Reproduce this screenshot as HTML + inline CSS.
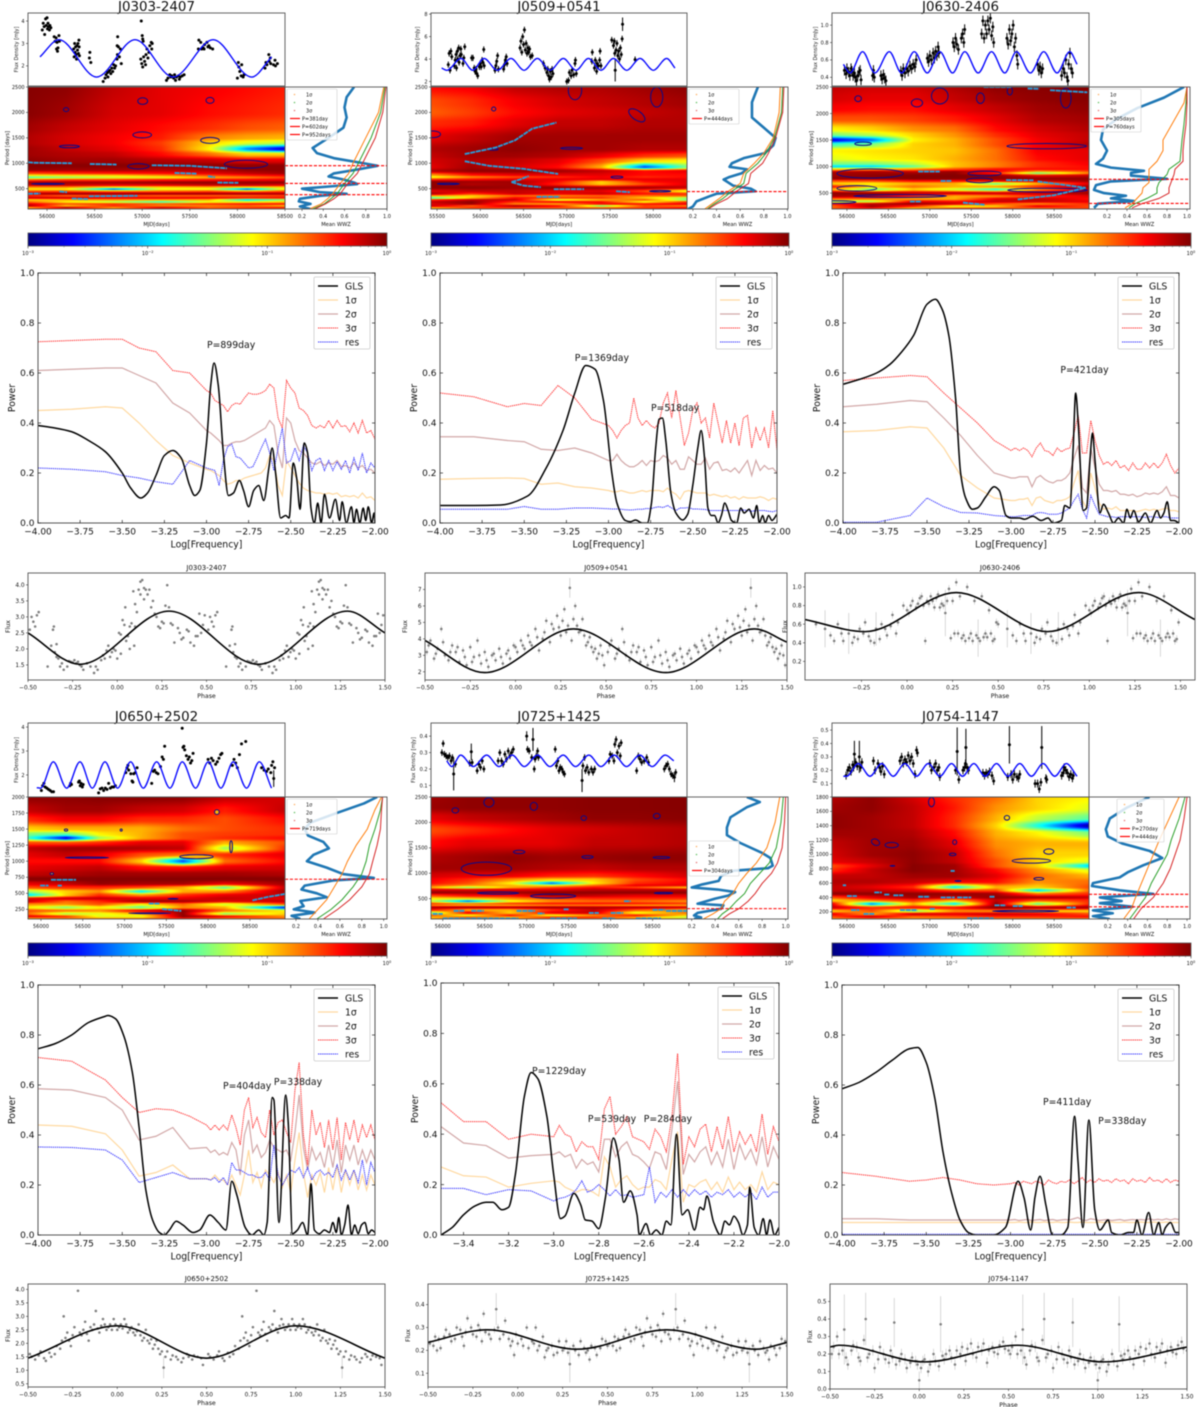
<!DOCTYPE html>
<html lang="en">
<head>
<meta charset="utf-8">
<title>Periodicity analysis panels</title>
<style>
html,body{margin:0;padding:0;background:#fff}
#figure{position:relative;width:1200px;height:1407px;overflow:hidden;background:#fff;filter:blur(0.42px)}
#figure canvas{position:absolute;display:block}
#overlay{position:absolute;left:0;top:0}
text{font-family:"DejaVu Sans","Liberation Sans",sans-serif;fill:#111}
</style>
</head>
<body>
<div id="figure">
<svg id="overlay" width="1200" height="1407" viewBox="0 0 1200 1407"></svg>
</div>
<script>
/* ---------- shared axes data ---------- */
const sigGridX=[-4,-3.8,-3.6,-3.5,-3.4,-3.3,-3.2,-3.1,
-3,-2.975,-2.95,-2.925,-2.9,-2.875,-2.85,-2.825,-2.8,-2.775,
-2.75,-2.725,-2.7,-2.675,-2.65,-2.625,-2.6,-2.575,-2.55,-2.525,
-2.5,-2.475,-2.45,-2.425,-2.4,-2.375,-2.35,-2.325,-2.3,-2.275,
-2.25,-2.225,-2.2,-2.175,-2.15,-2.125,-2.1,-2.075,-2.05,-2.025,-2];
const sigGridE=[-3.5,-3.4,-3.3,-3.2,-3.1,
-3,-2.975,-2.95,-2.925,-2.9,-2.875,-2.85,-2.825,-2.8,-2.775,
-2.75,-2.725,-2.7,-2.675,-2.65,-2.625,-2.6,-2.575,-2.55,-2.525,
-2.5,-2.475,-2.45,-2.425,-2.4,-2.375,-2.35,-2.325,-2.3,-2.275,
-2.25,-2.225,-2.2,-2.175,-2.15,-2.125,-2.1,-2.075,-2.05,-2.025,-2];
const glsTicksStd=[-4,-3.75,-3.5,-3.25,-3,-2.75,-2.5,-2.25,-2];
const glsTicksE=[-3.4,-3.2,-3,-2.8,-2.6,-2.4,-2.2,-2];
const powerTicks=[0,.2,.4,.6,.8,1];
const phaseTicks=[-.5,-.25,0,.25,.5,.75,1,1.25,1.5];
const phaseTicksC=[-.25,0,.25,.5,.75,1,1.25,1.5];
const wwzTicks=[.2,.4,.6,.8,1];
const colorbarExponents=[-3,-2,-1,0];
const colorbarMinor=[2,3,4,5,6,7,8,9];

/* ---------- J0303-2407 ---------- */
const a_lc=[[55950,3.6],[55960,3.9],[55970,3.75],[55975,3.4],[55985,4.1],[55990,3.8],[56000,4.15],[56005,3.65],[56010,3.9],[56015,3.75],[56025,3.6],[56030,3.8],[56040,3.7],[56075,3.3],[56085,3.1],[56095,3.25],[56100,2.75],[56105,3.05],[56110,2.65],[56115,2.8],[56125,3.35],[56130,3.1],
[56280,2.75],[56285,2.4],[56290,3],[56295,2.6],[56300,2.85],[56305,2.5],[56310,2.3],[56315,2.9],[56320,2.7],[56325,3],[56330,2.55],[56335,3.15],[56337,2.85],[56340,2.45],[56450,2.6],[56445,2.35],[56460,2.15],
[56590,1.3],[56610,1.45],[56620,1.6],[56635,1.7],[56640,1.5],[56650,1.75],[56660,1.8],[56670,1.65],[56680,1.9],[56690,1.75],[56700,2.05],[56710,1.9],[56720,2],[56735,2.3],[56740,2.5],[56737,2.9],[56742,3.3],[56750,2.85],[56760,2.4],[56770,2.75],[56780,2.1],
[56990,4],[57000,3.35],[57005,3.2],[57010,3.1],[56985,2.3],[56995,2.1],[57005,1.95],[57015,2.4],[57025,2.2],[57035,2.05],[57040,2.5],[57050,2.75],[57060,2.35],[57070,2.6],[57080,2.9],[57095,3.05],[57100,2.75],[57105,3],
[57255,1.35],[57270,1.45],[57290,1.6],[57300,1.5],[57310,1.55],[57330,1.45],[57340,1.6],[57350,1.35],[57360,1.5],[57380,1.55],[57390,1.4],[57400,1.5],[57420,1.55],[57440,1.6],
[57590,2.75],[57595,3.15],[57615,3.05],[57625,2.75],[57640,2.8],[57650,2.75],[57655,2.95],[57680,3.05],[57690,2.85],[57700,2.9],[57715,2.8],[57740,2.75],
[58000,1.45],[58010,2.15],[58015,1.95],[58025,1.75],[58040,1.55],[58045,2.05],[58060,1.5],[58070,1.6],
[58290,1.9],[58300,2.15],[58310,2.05],[58330,2.5],[58335,2.2],[58345,2.35],[58350,2.1],[58380,2.05],[58395,2.25],[58400,2],[58420,2.1]];
const a_model=[[55926,2.4],[56125,3.17],[56520,1.5],[56925,3.17],[57325,1.5],[57745,3.17],[58150,1.5],[58360,2.4]];
const a_heatCols=[55800,56200,56700,57200,57700,58100,58500];
const a_heatRows=[2500,2000,1700,1500,1400,1280,1180,1050,950,870,800,760,720,680,620,570,530,490,450,400,360,320,280,240,200,160,130,100];
const a_heatLog=[[-.02,-.05,-.2,-.3,-.35,-.4,-.45],[-.03,-.1,-.25,-.3,-.4,-.45,-.5],[-.1,-.2,-.3,-.4,-.5,-.6,-.65],[-.15,-.25,-.35,-.45,-.75,-.85,-.9],[-.15,-.25,-.35,-.55,-1,-1.2,-1.3],[-.1,-.2,-.3,-.5,-1.1,-2.2,-2.8],[-.1,-.15,-.2,-.4,-.7,-1,-1],[-.05,-.1,-.1,-.15,-.2,-.3,-.3],[-.02,-.03,-.03,-.03,-.05,-.05,-.05],[-.05,-.1,-.1,-.15,-.15,-.05,-.05],[-.6,-.5,-.45,-.4,-.3,-.2,-.1],[-1.1,-1.05,-1,-.8,-.6,-.45,-.35],[-1.7,-1.5,-1.3,-1.2,-.9,-.8,-.6],[-.7,-.6,-.6,-.5,-.45,-.4,-.35],[-.1,-.1,-.1,-.05,-.05,-.05,-.05],[-.2,-.2,-.3,-.3,-.2,-.2,-.3],[-.8,-.8,-1,-1,-.9,-1,-1],[-1.1,-1.1,-2.4,-1.2,-1.2,-2.4,-1.1],[-.6,-.6,-.7,-.7,-.6,-.8,-.6],[-.1,-.05,-.05,-.05,-.05,-.05,-.1],[-.5,-.7,-.6,-.7,-.7,-.7,-.6],[-.2,-.2,-.3,-.3,-.3,-.3,-.3],[-1,-.9,-.8,-.8,-.9,-2,-1.5],[-.7,-1.1,-1.4,-1.8,-1.2,-1.2,-1],[-.3,-.6,-.5,-.6,-.5,-.4,-.4],[-.05,-1,-.5,-.8,-.8,-.7,-1],[-1,-.1,-.8,-.2,-.6,-.5,-.3],[-.5,-.5,-.8,-.5,-.7,-.6,-.8]];
const a_contours=[[57005,2223,52,65],[57712,2237,42,59],[56200,2055,28,39],[57000,1557,98,59],[57712,1450,98,59],[56235,1330,105,26],[56960,940,112,52],[58090,980,228,78],[56010,595,175,10]];
const a_ridges=[[[55800,1020],[55860,1010],[56260,1000]],[[56450,985],[56730,975]],[[57100,960],[57500,950],[57890,900]],[[57340,810],[57570,795]],[[57690,745],[57765,725]],[[57790,620],[58010,615]],[[55800,400],[55930,405]],[[56130,445],[56210,430]],[[56440,350],[56950,360]],[[56260,305],[56430,295]]];
const a_wwz=[[.69,2500],[.62,2300],[.6,2100],[.62,1900],[.59,1700],[.45,1500],[.3,1300],[.34,1200],[.5,1100],[.78,1000],[.91,950],[.73,880],[.5,800],[.45,740],[.59,680],[.69,620],[.72,590],[.5,550],[.2,500],[.28,470],[.37,430],[.62,400],[.37,360],[.18,300],[.17,250],[.28,200],[.18,150],[.28,100]];
const a_sigP=[2500,2000,1500,1000,800,600,400,300,200,100];
const a_side1=[.97,.92,.8,.68,.64,.56,.49,.44,.38,.27];
const a_side2=[.98,.94,.85,.73,.68,.6,.53,.47,.41,.3];
const a_side3=[.99,.96,.89,.77,.72,.63,.56,.5,.42,.32];
const a_peaks=[381,602,952];
const a_peakLabels=['P=381day','P=602day','P=952days'];
const a_gls=[[-4,.39],[-3.9,.38],[-3.8,.365],[-3.7,.33],[-3.6,.285],[-3.5,.2],[-3.45,.14],[-3.39,.1],[-3.35,.12],[-3.3,.19],[-3.25,.27],[-3.2,.29],[-3.15,.26],[-3.1,.15],[-3.07,.11],[-3.04,.13],[-3,.32],[-2.975,.55],[-2.955,.64],[-2.93,.55],[-2.9,.28],[-2.87,.11],[-2.84,.12],[-2.805,.17],[-2.78,.13],[-2.75,.065],[-2.72,.13],[-2.69,.15],[-2.66,.09],[-2.63,.22],[-2.61,.3],[-2.59,.2],[-2.56,.02],[-2.53,.03],[-2.51,.02],[-2.485,.24],[-2.465,.18],[-2.445,.055],[-2.42,.32],[-2.4,.28],[-2.38,.06],[-2.36,0],[-2.34,.08],[-2.32,0],[-2.3,.115],[-2.27,.02],[-2.235,.095],[-2.21,.01],[-2.195,.085],[-2.17,0],[-2.14,.065],[-2.125,0],[-2.11,.055],[-2.09,0],[-2.07,.06],[-2.055,.01],[-2.04,.065],[-2.02,0],[-2.005,.04],[-2,0]];
const a_s1=[.45,.455,.465,.46,.4,.33,.27,.24,
.215,.21,.2,.19,.17,.155,.16,.17,.17,.18,
.185,.19,.195,.2,.22,.27,.25,.15,.11,.25,
.22,.19,.16,.14,.13,.125,.12,.12,.115,.12,
.115,.12,.105,.11,.105,.11,.1,.12,.1,.105,.09];
const a_s2=[.61,.615,.62,.62,.59,.56,.48,.44,
.37,.36,.345,.33,.31,.31,.32,.325,.325,.33,
.34,.35,.36,.37,.38,.41,.39,.28,.22,.42,
.4,.33,.29,.28,.26,.24,.235,.245,.23,.24,
.235,.25,.225,.23,.22,.24,.22,.23,.21,.215,.2];
const a_s3=[.725,.73,.735,.735,.7,.685,.61,.6,
.53,.52,.49,.48,.47,.445,.47,.48,.475,.5,
.52,.515,.515,.52,.53,.555,.54,.42,.38,.57,
.54,.52,.46,.45,.43,.39,.38,.39,.38,.41,
.38,.41,.385,.39,.365,.4,.36,.41,.36,.37,.335];
const a_res=[.22,.215,.205,.19,.18,.165,.155,.25,
.22,.215,.21,.15,.25,.305,.315,.265,.26,.24,
.22,.225,.26,.3,.335,.28,.21,.3,.38,.24,
.25,.3,.25,.31,.28,.21,.25,.26,.21,.25,
.21,.245,.215,.25,.2,.26,.21,.28,.2,.24,.22];
const a_notes=[['P=899day',-2.997,.7]];
const a_phase=[[-.49,2.6],[-.48,3],[-.47,2.85],[-.46,2.7],[-.45,3.05],[-.44,3.15],[-.39,1.45],[-.37,2.1],[-.36,2.6],[-.355,2.7],[-.35,1.9],[-.34,2.15],[-.33,1.7],[-.32,1.45],[-.3,1.35],[-.28,1.45],[-.26,1.6],[-.24,1.65],[-.22,1.6],[-.2,1.45],[-.19,1.35],[-.17,1.55],[-.13,1.25],[-.11,1.35],[-.09,1.65],[-.07,1.7],[-.05,2.1],[-.04,1.75],[-.02,2],[0,1.7],[.01,2.5],[.02,1.85],[.03,2.9],[.04,2.75],[.045,3.3],[.06,2.4],[.07,2],[.08,2.8],[.09,3.8],[.095,2.1],[.1,3.4],[.11,3.15],[.12,3.85],[.13,4.1],[.14,4.15],[.15,3.55],[.16,3.85],[.17,3.7],[.18,3.85],[.2,3.5],[.22,3],[.23,2.7],[.25,2.85],[.27,3.35],[.28,3.99],[.3,2.8],[.32,2.2],[.34,2.65],[.35,2.5],[.37,2.35],[.39,2.6],[.41,2.2],[.43,2.1],[.45,2.4],[.46,3.1],[.48,2.75],[.49,3.05],
[-.34,1.75],[-.31,1.55],[-.27,1.62],[-.25,1.58],[-.23,1.55],[-.21,1.5],[-.15,1.45],[-.12,1.45],[-.08,1.8],[-.06,1.95],[-.03,1.9],[-.01,1.95],[.02,2.45],[.05,2.25],[.07,2.7],[.1,2.7],[.13,3.7],[.15,3.9],[.19,3.3],[.21,3.1],[.24,2.65],[.26,2.8],[.29,3.3],[.31,2.75],[.36,2.3],[.4,2.55],[.44,2.4],[.47,2.5]];
const a_fold=[[-.5,2.5],[-.21,1.52],[.29,3.18],[.79,1.52],[1.29,3.18],[1.5,2.5]];

/* ---------- J0509+0541 ---------- */
const b_lc=[[55630,3.5],[55640,4.5],[55650,3],[55660,4.7],[55670,4.2],[55700,3.4],[55710,3.9],[55720,4.4],[55725,3.2],[55735,4.7],[55740,4],[55750,5],[55755,3.7],[55765,4.3],[55775,4.9],[55780,4.4],[55800,3.6],[55810,4.1],[55820,5.1],
[55900,4.1],[55915,4.1],[55930,3.2],[55940,2.9],[55950,3.1],[55960,2.7],[55970,2.5],[55990,3.3],[56000,3.6],[56010,3.3],[56020,3.9],[56030,3.7],[56040,4.85],[56045,3.4],
[56170,3],[56180,3.4],[56190,3.8],[56200,4.3],[56210,3.1],[56270,3.1],[56280,3.5],[56290,3.9],[56300,4.2],[56310,3.6],
[56460,5],[56470,5.6],[56480,4.6],[56490,6],[56500,5.3],[56510,6.6],[56520,4.8],[56530,5.4],[56540,4.5],[56550,5],[56560,4.6],[56570,4.9],[56580,4.2],[56600,4.3],
[56730,3.6],[56750,3.2],[56770,2.8],[56780,3.1],[56790,2.5],[56800,2.2],[56810,2.9],[56820,2.4],[56830,3.1],[56840,2.7],
[57000,2],[57020,2.1],[57030,2.8],[57050,2.5],[57060,3],[57080,2.6],[57095,3.6],[57100,3.9],[57110,2.7],
[57290,3.8],[57295,4.6],[57320,3.2],[57330,3.9],[57345,2.9],[57350,3.6],[57365,3.4],[57380,3.9],[57385,4.7],[57395,3.4],
[57520,5.7],[57540,5.2],[57550,5.6],[57555,4.5],[57560,3,1],[57570,4.8],[57580,5.4],[57590,4.3],[57600,4.7],[57610,4],[57620,5],[57630,4.4],[57640,5.8],[57645,7.1,.6],[57790,3.95]];
const b_model=[[55553,3.2],[55612,3],[55777,4.05],[55912,3],[56043,4.05],[56197,3],[56355,4.05],[56506,3],[56660,4.05],[56806,3],[56960,4.05],[57107,3],[57250,4.05],[57396,3],[57539,4.05],[57693,3],[57847,4.05],[58001,3],[58155,4.05],[58251,3.2]];
const b_heatCols=[55430,55900,56400,56900,57400,57900,58390];
const b_heatRows=[2500,2200,2000,1800,1500,1280,1150,1050,920,850,770,730,680,640,590,520,450,400,360,320,280,240,200,160,120,100];
const b_heatLog=[[-.4,-.35,-.2,-.15,-.15,-.1,-.05],[-.6,-.5,-.35,-.25,-.2,-.15,-.1],[-.65,-.55,-.4,-.3,-.25,-.2,-.15],[-.5,-.45,-.3,-.2,-.2,-.15,-.15],[-.3,-.2,-.1,-.1,-.1,-.1,-.1],[-.15,-.1,-.05,-.1,-.1,-.15,-.15],[-.2,-.1,-.1,-.15,-.3,-.5,-.6],[-.25,-.15,-.2,-.3,-.6,-1,-1.1],[-.3,-.1,-.25,-.4,-.9,-2.4,-1.5],[-.15,-.05,-.05,-.1,-.2,-.4,-.3],[-.8,-.4,-.3,-.3,-.3,-.4,-.4],[-1.2,-.8,-.6,-.5,-.35,-.5,-.4],[-.5,-.4,-.3,-.3,-.3,-.3,-.3],[-.05,-.1,-.1,-.4,-1,-.4,-.3],[-.05,-.15,-.1,-.5,-1,-.6,-.3],[-.05,-.05,-.1,-.05,-.1,-.1,-.2],[-.3,-.2,-.2,-.3,-.3,-.6,-1.2],[-.1,-.5,-.2,-.3,-.2,-.4,-.5],[-.8,-1,-.7,-.8,-.7,-.7,-.6],[-1.8,-1,-.4,-.5,-.5,-1,-1.4],[-.5,-.2,-.2,-1.3,-.9,-.6,-1.6],[-.2,-.05,-.5,-.3,-.4,-1.2,-.5],[-.3,-.05,-.8,-.9,-.3,-.4,-.3],[-.2,-.7,-.1,-.4,-1.6,-.6,-.8],[-1,-.4,-.6,-.6,-.5,-.5,-.3],[-.8,-1,-.5,-.7,-.9,-.6,-.5]];
const b_contours=[[57095,2433,77,183],[58040,2302,70,196],[57810,1943,108,90,35],[56155,2067,24,40],[55455,1570,85,65],[57055,1295,127,20],[56150,1275,58,20],[55630,595,127,13],[58080,450,123,13],[57580,727,70,20]];
const b_ridges=[[[55820,1180],[56180,1310],[56400,1450],[56600,1680],[56880,1800]],[[55820,1040],[56100,950],[56500,890],[56900,790]],[[56360,630],[56460,680],[56560,750]],[[56360,630],[56500,560],[56700,530]],[[56850,490],[57200,490]],[[56650,340],[56920,340]],[[57570,450],[57730,430]]];
const b_wwz=[[.75,2500],[.7,2200],[.7,1900],[.8,1700],[.9,1500],[.88,1350],[.81,1200],[.63,1100],[.53,1000],[.51,930],[.66,880],[.61,800],[.51,730],[.46,680],[.5,620],[.54,560],[.69,500],[.73,450],[.4,400],[.34,350],[.23,250],[.2,150],[.16,100]];
const b_sigP=[2500,2000,1500,1200,1000,800,600,450,300,200,100];
const b_side1=[.94,.93,.88,.8,.72,.63,.6,.5,.42,.36,.3];
const b_side2=[.96,.95,.89,.82,.75,.65,.63,.53,.45,.38,.32];
const b_side3=[.97,.96,.9,.84,.79,.69,.67,.57,.49,.4,.33];
const b_peaks=[444];
const b_peakLabels=['P=444days'];
const b_gls=[[-4,.07],[-3.8,.07],[-3.64,.072],[-3.48,.108],[-3.37,.22],[-3.27,.37],[-3.2,.52],[-3.135,.63],[-3.08,.615],[-3.03,.49],[-2.98,.2],[-2.95,.08],[-2.9,.01],[-2.87,.005],[-2.84,.012],[-2.8,0],[-2.77,0],[-2.745,.08],[-2.72,.3],[-2.7,.415],[-2.68,.42],[-2.66,.33],[-2.63,.12],[-2.6,.04],[-2.56,.012],[-2.53,.035],[-2.5,.15],[-2.47,.3],[-2.45,.37],[-2.43,.26],[-2.41,.06],[-2.39,.03],[-2.37,.03],[-2.35,0],[-2.33,.03],[-2.31,.08],[-2.29,.05],[-2.27,.01],[-2.24,0],[-2.215,.06],[-2.195,.04],[-2.165,.055],[-2.14,.02],[-2.12,.07],[-2.105,0],[-2.085,.03],[-2.07,0],[-2.05,.03],[-2.03,.01],[-2,.035]];
const b_s1=[.175,.178,.18,.178,.155,.16,.145,.14,
.13,.125,.125,.13,.125,.12,.12,.125,.13,.125,
.13,.13,.13,.125,.14,.125,.115,.095,.125,.13,
.125,.12,.12,.12,.11,.115,.11,.105,.11,.1,
.105,.095,.105,.1,.1,.1,.105,.1,.09,.1,.095];
const b_s2=[.345,.345,.33,.325,.295,.29,.3,.28,
.25,.25,.275,.25,.235,.225,.225,.235,.25,.23,
.25,.245,.25,.27,.26,.235,.25,.215,.215,.265,
.25,.235,.235,.26,.215,.24,.245,.21,.215,.205,
.22,.2,.225,.25,.19,.25,.21,.23,.215,.22,.2];
const b_s3=[.52,.505,.465,.478,.47,.55,.5,.415,
.39,.37,.34,.37,.39,.4,.5,.42,.39,.41,
.39,.38,.4,.48,.52,.42,.53,.42,.31,.36,
.45,.48,.4,.42,.34,.48,.4,.32,.41,.32,
.4,.31,.42,.43,.3,.38,.33,.38,.3,.45,.29];
const b_res=[.055,.055,.055,.066,.055,.055,.06,.06,
.057,.056,.056,.055,.053,.052,.053,.055,.055,.058,
.057,.062,.065,.062,.07,.06,.05,.06,.06,.062,
.056,.056,.055,.054,.05,.05,.05,.05,.05,.05,
.05,.05,.052,.05,.047,.05,.05,.05,.047,.045,.05];
const b_notes=[['P=1369day',-3.2,.648],['P=518day',-2.748,.448]];
const b_phase=[[-.49,3.2],[-.47,3.9],[-.45,2.8],[-.43,3.4],[-.41,4.6],[-.39,3],[-.37,2.7],[-.35,3.6],[-.33,3.2],[-.31,2.6],[-.29,3.3],[-.27,2.4],[-.25,3.5],[-.23,2.9],[-.21,3.9],[-.19,2.5],[-.17,3.2],[-.15,2.3],[-.13,3],[-.11,2.7],[-.09,3.4],[-.07,2.5],[-.05,3.1],[-.03,2.8],[-.01,3.6],[.01,3.2],[.03,3.9],[.05,3.4],[.07,4.2],[.09,3.6],[.11,4.6],[.13,3.3],[.15,4],[.17,5.1],[.19,3.8],[.21,4.6],[.23,5.4],[.25,4.2],[.27,5.8],[.29,4.8],[.3,7.1,.6],[.31,3.9],[.33,6],[.35,4.4],[.37,5.2],[.39,3.6],[.41,4.1],[.43,3.2],[.45,2.8],[.47,3.6],[.49,2.4],
[-.48,3.6],[-.44,3.1],[-.4,3.8],[-.36,3.2],[-.32,3.5],[-.28,2.9],[-.24,2.6],[-.2,3],[-.16,2.7],[-.12,3.1],[-.08,2.9],[-.04,3.3],[0,3.5],[.04,3.6],[.08,3.8],[.12,4.1],[.16,4.4],[.2,4.9],[.24,4.7],[.26,5.1],[.28,4.4],[.32,5.2],[.34,4.8],[.36,4.5],[.38,4.2],[.4,3.8],[.42,3.5],[.44,3.4],[.46,3.1],[.48,3]];
const b_fold=[[-.5,3.9],[-.17,1.95],[.32,4.6],[.83,1.95],[1.32,4.6],[1.5,3.8]];

/* ---------- J0630-2406 ---------- */
const c_lc=[[55970,.48],[55990,.44],[56000,.5],[56020,.46],[56035,.42],[56050,.5],[56060,.47],[56075,.42],[56090,.45],[56100,.4],[56115,.36],[56130,.42],[56145,.46],[56160,.48],[56170,.37],[56310,.42],[56320,.48],[56330,.4],[56410,.42],[56425,.38],[56440,.43],[56455,.39],[56470,.36],
[56650,.47],[56665,.42],[56680,.5],[56700,.45],[56720,.5],[56740,.47],[56760,.53],[56780,.5],[56800,.55],[56820,.52],[56835,.6],[56970,.62],[56985,.58],[57000,.65],[57020,.6],[57040,.68],[57055,.62],[57070,.7],[57085,.65],[57100,.75],[57110,.68],
[57280,.8],[57295,.75],[57310,.85],[57325,.78],[57345,.72],[57380,.85],[57395,.9],[57410,.8],[57420,.95],[57625,.9],[57640,1.05],[57655,.85],[57670,1],[57685,.9],[57700,1.05],[57715,.95],[57730,1.08],[57745,.88],[57760,.98],[57770,.8],
[57930,.85],[57945,.78],[57960,.95],[57975,.82],[57990,.9],[58005,1],[58020,.75],[58035,.85],[58050,.65],[58060,.55],[58300,.55],[58315,.48],[58330,.52],[58345,.45],[58360,.5],[58590,.42],[58610,.5],[58625,.45],[58640,.6],[58655,.4],[58665,.36],[58675,.55],[58690,.68],[58705,.5],[58720,.45]];
const c_model=[[55957,.55],[56037,.45],[56189,.695],[56338,.45],[56511,.695],[56659,.45],[56812,.695],[56969,.45],[57121,.695],[57274,.45],[57422,.695],[57583,.45],[57744,.695],[57904,.45],[58045,.695],[58213,.45],[58374,.695],[58535,.45],[58687,.695],[58776,.55]];
const c_heatCols=[55820,56300,56800,57300,57800,58300,58920];
const c_heatRows=[2500,2300,2100,1900,1700,1600,1500,1420,1300,1150,1050,1000,950,900,880,830,770,730,680,620,570,500,440,390,340,300,250,200];
const c_heatLog=[[-.2,-.25,-.25,-.15,-.05,-.03,-.02],[-.25,-.3,-.3,-.2,-.1,-.05,-.02],[-.35,-.4,-.4,-.3,-.2,-.1,-.05],[-.6,-.6,-.55,-.45,-.3,-.15,-.1],[-1.1,-1,-.8,-.7,-.4,-.25,-.15],[-1.5,-1.3,-1,-.8,-.5,-.3,-.2],[-2.7,-2.3,-1.1,-.9,-.6,-.35,-.2],[-1.7,-1.5,-1,-.9,-.6,-.35,-.15],[-1.1,-1.05,-1,-.95,-.7,-.35,-.3],[-1.2,-1.1,-1.05,-.9,-.7,-.4,-.3],[-1.5,-1.5,-1.3,-.95,-.75,-.5,-.35],[-2,-2,-1.6,-.95,-.75,-.5,-.4],[-1,-.9,-.8,-.6,-.4,-.4,-.4],[-.2,-.1,-.2,-.05,-.3,-.9,-.6],[-.1,-.1,-.1,-.05,-.5,-1.7,-.8],[-.1,-.05,-.02,-.02,-.05,-.3,-.2],[-.05,-.05,-.02,-.03,-.05,-.05,-.05],[-.6,-.6,-.4,-.4,-.3,-.2,-.1],[-1,-1.1,-.9,-.9,-1.6,-.9,-.3],[-.4,-1,-.7,-.9,-.8,-.5,-.1],[-.9,-1.6,-1,-1.3,-1.8,-.8,-.2],[-.05,-.05,-.2,-.2,-.2,-.2,-.1],[-.1,-.2,-.5,-.9,-.8,-.5,-.3],[-.7,-.7,-.9,-.9,-.3,-.2,-.4],[-1.5,-1.4,-.3,-.4,-.2,-.2,-.3],[-.4,-.2,-.05,-.2,-.6,-.8,-.5],[-.7,-.1,-.5,-1.2,-1,-.3,-.6],[-.6,-.5,-1.1,-.4,-.4,-.8,-.5]];
const c_contours=[[56135,2280,40,56],[56845,2200,68,75],[57610,2290,48,100],[57965,2425,32,75],[58640,2290,64,187],[57120,2330,100,150],[58410,1385,480,50],[56195,1430,100,30],[56280,870,400,87],[57660,870,200,44],[57600,740,160,44],[56120,590,240,50],[56640,445,560,25],[58420,555,480,37],[55830,330,280,25]];
const c_ridges=[[[57650,2500],[57980,2500]],[[58180,2470],[58320,2465]],[[58450,2440],[58900,2400]],[[56860,905],[57120,905]],[[57130,730],[57260,730]],[[57920,745],[58250,740]],[[58300,720],[58880,600]],[[58060,380],[58500,460],[58880,600]],[[56760,340],[56900,340]],[[57400,320],[57660,280]]];
const c_wwz=[[.97,2500],[.77,2300],[.5,2100],[.3,1900],[.16,1700],[.14,1500],[.2,1300],[.16,1150],[.09,1050],[.24,980],[.57,920],[.44,880],[.44,830],[.8,770],[.24,720],[.09,650],[.07,560],[.17,500],[.39,450],[.24,400],[.47,350],[.11,300],[.07,220]];
const c_sigP=[2500,2200,1800,1500,1300,1100,950,850,700,600,500,400,300,220];
const c_side1=[1,.97,.85,.76,.76,.7,.62,.62,.62,.56,.55,.5,.45,.38];
const c_side2=[1,.99,.97,.95,.94,.93,.82,.8,.72,.7,.7,.6,.48,.42];
const c_side3=[1,1,.99,.97,.96,.96,.88,.87,.84,.82,.82,.72,.55,.45];
const c_peaks=[305,760];
const c_peakLabels=['P=305days','P=760days'];
const c_gls=[[-4,.555],[-3.9,.575],[-3.8,.6],[-3.72,.635],[-3.65,.685],[-3.58,.75],[-3.5,.875],[-3.45,.895],[-3.41,.855],[-3.37,.75],[-3.33,.5],[-3.3,.2],[-3.27,.1],[-3.23,.055],[-3.2,.06],[-3.15,.105],[-3.1,.145],[-3.07,.13],[-3.03,.03],[-3,.02],[-2.95,.02],[-2.92,.015],[-2.87,.027],[-2.82,.01],[-2.78,.02],[-2.75,0],[-2.7,.01],[-2.68,.07],[-2.65,.06],[-2.63,.3],[-2.615,.52],[-2.6,.4],[-2.57,.05],[-2.55,.06],[-2.53,.25],[-2.515,.36],[-2.5,.25],[-2.47,.04],[-2.45,.075],[-2.42,.04],[-2.39,0],[-2.36,.02],[-2.33,0],[-2.31,.055],[-2.29,.02],[-2.27,.05],[-2.24,.005],[-2.2,.04],[-2.17,0],[-2.13,.05],[-2.11,.02],[-2.09,.04],[-2.07,.085],[-2.05,.01],[-2.03,.01],[-2,0]];
const c_s1=[.365,.37,.385,.38,.3,.19,.14,.1,
.09,.09,.095,.095,.1,.07,.1,.105,.09,.085,
.08,.09,.09,.095,.105,.16,.21,.09,.06,.2,
.14,.08,.055,.06,.055,.065,.05,.05,.05,.05,
.045,.05,.055,.05,.055,.05,.055,.06,.05,.05,.045];
const c_s2=[.465,.475,.49,.485,.42,.35,.27,.2,
.18,.18,.185,.185,.185,.145,.18,.19,.175,.165,
.16,.17,.17,.18,.2,.26,.31,.14,.12,.3,
.22,.155,.13,.13,.125,.13,.115,.115,.11,.115,
.105,.11,.12,.115,.12,.115,.125,.145,.11,.11,.1];
const c_s3=[.57,.58,.59,.585,.52,.46,.4,.33,
.29,.3,.29,.3,.29,.265,.3,.32,.29,.285,
.27,.3,.285,.295,.3,.36,.43,.28,.28,.41,
.33,.27,.235,.245,.23,.25,.22,.23,.21,.24,
.215,.215,.24,.22,.24,.22,.24,.275,.23,.2,.22];
const c_res=[.003,.003,.03,.1,.065,.042,.04,.03,
.025,.025,.028,.03,.03,.03,.04,.042,.04,.035,
.035,.035,.04,.05,.06,.09,.115,.055,.02,.11,
.07,.035,.03,.025,.025,.022,.025,.025,.025,.025,
.025,.025,.022,.025,.025,.022,.025,.025,.02,.02,.02];
const c_notes=[['P=421day',-2.706,.6]];
const c_phase=[[-.5,.6],[-.45,.55,.2],[-.42,.48],[-.38,.6],[-.35,.42],[-.32,.5,.22],[-.29,.46],[-.26,.55],[-.23,.62],[-.2,.42],[-.17,.55,.18],[-.14,.6],[-.11,.48],[-.08,.7],[-.05,.62],[-.02,.8],[.01,.72],[.03,.85],[.05,.78],[.07,.88],[.09,.8],[.1,.42],[.11,.85],[.13,.9],[.15,.78],[.17,.92],[.19,.82],[.21,.72,.25],[.23,.98],[.25,.85],[.27,1.05],[.28,.5],[.29,.9],[.31,.48],[.33,1],[.35,.5],[.36,.42],[.37,.85],[.39,.45,.2],[.41,.9],[.43,.5],[.44,.46],[.45,.75],[.47,.42],[.49,.62],
[-.4,.42],[-.36,.5],[-.3,.4],[-.27,.44],[-.24,.5],[-.21,.47],[-.18,.4],[-.15,.44],[-.12,.55],[-.09,.58],[-.06,.5],[0,.75],[.02,.8],[.06,.82],[.08,.9],[.12,.82],[.14,.85],[.16,.88],[.18,.78],[.2,.8],[.22,.85],[.24,.45],[.26,.5],[.3,.45],[.32,.42],[.34,.45],[.38,.48],[.4,.42],[.42,.46],[.46,.5],[.48,.44]];
const c_fold=[[-.56,.65],[-.23,.52],[.27,.94],[.77,.52],[1.27,.94],[1.58,.65]];

/* ---------- J0650+2502 ---------- */
const d_lc=[[56005,1.35],[56020,1.55],[56035,1.65],[56050,1.5],[56070,1.45],[56090,1.4],[56110,1.35],[56130,1.3],[56150,1.3],[56345,1.55],[56355,1.65],[56365,1.6],[56450,1.7],[56460,1.75],[56470,1.55],[56480,1.65],[56495,1.5],[56505,1.6],
[56690,1.25],[56710,1.42],[56730,1.45],[56750,1.35],[56770,1.45],[56790,1.4],[56810,1.65],[56830,1.45],[56850,1.5],[56870,1.5],[56890,1.55],[57015,2.1],[57030,2.3],[57040,2.4],[57050,2.2],[57075,2.05],[57090,1.75],[57100,1.7],[57110,2.05],[57130,2.1],[57150,2.3],
[57325,1.65],[57345,2.15],[57360,2.2],[57380,2.1],[57400,2.05],[57430,2.35],[57450,2.75],[57465,2.65],[57480,3.2],[57690,3.95],[57700,3.15],[57710,3.2],[57720,3.05],[57740,2.8],[57760,2.65],[57775,2.75],[57790,2.5],[57805,2.6],[57820,2.9],
[58000,2.65],[58020,2.5],[58040,2.7],[58060,2.6],[58090,2.45],[58110,2.55],[58130,2.7],[58150,2.85],[58165,2.9],[58290,2.4],[58310,2.65],[58330,2.5],[58350,2.3],[58375,2.85],[58400,3.3],[58450,3.4],[58640,2.3],[58670,2.2],[58700,2.15],[58720,2.25],[58750,2.1],[58760,2.4],[58775,2.55],[58785,1.85,.35],[58795,2.3]];
const d_model=[[55950,1.47],[55996,1.45],[56148,2.55],[56307,1.45],[56467,2.55],[56614,1.45],[56766,2.55],[56917,1.45],[57073,2.55],[57224,1.45],[57384,2.55],[57543,1.45],[57691,2.55],[57850,1.45],[58002,2.55],[58153,1.45],[58301,2.55],[58460,1.45],[58612,2.55],[58759,1.45]];
const d_heatCols=[55845,56300,56700,57200,57700,58200,58920];
const d_heatRows=[2000,1800,1650,1500,1420,1360,1290,1200,1100,1000,900,800,720,650,590,530,470,420,375,330,280,230,180,140,100];
const d_heatLog=[[-.05,-.05,-.03,-.03,-.05,-.2,-.25],[-.2,-.1,-.1,-.2,-.25,-.45,-.2],[-.5,-.35,-.35,-.5,-.5,-.6,-.4],[-1,-.9,-.9,-.9,-.7,-.6,-.5],[-1.5,-1.6,-1.1,-.9,-.6,-.55,-.5],[-1.7,-2.7,-1.4,-.9,-.6,-.5,-.4],[-.6,-.6,-.5,-.3,-.3,-.9,-.6],[-.2,-.1,-.1,-.15,-.2,-1.4,-.5],[-.3,-.2,-.3,-.6,-.7,-.5,-.3],[-.4,-.4,-.4,-1,-2.4,-.7,-.4],[-.3,-.25,-.2,-.4,-.4,-.3,-.25],[-.2,-.15,-.1,-.1,-.1,-.1,-.15],[-.02,-.02,-.02,-.02,-.02,-.02,-.02],[-.3,-.2,-.05,-.1,-.1,-.3,-.1],[-.6,-.5,-.5,-.6,-.9,-1.6,-.2],[-1.4,-1,-.8,-1.9,-.9,-.8,-.1],[-2,-1,-.5,-.8,-.5,-.3,-.2],[-.3,-.2,-.2,-.3,-.3,-.2,-.3],[-.2,-.7,-.5,-.05,-.1,-.3,-.2],[-.8,-.8,-.6,-1.1,-.7,-1.3,-.6],[-1.1,-1.5,-1.1,-1.6,-.8,-.9,-2.6],[-.6,-.7,-.8,-.3,-.05,-.7,-1.1],[-.7,-1.4,-1.2,-.9,-.05,-1.5,-1],[-.3,-.5,-1.2,-1.2,-.05,-.3,-.8],[-1,-.8,-.7,-.7,-.5,-.8,-.6]];
const d_contours=[[56300,1485,20,16,0,1],[56960,1485,12,16,0,1],[56130,805,20,16,0,1],[58105,1765,28,36,0,1],[58275,1226,16,93,0,1],[56550,1055,260,10],[57860,1070,200,31,0,1],[57580,415,60,6],[57300,190,250,6]];
const d_ridges=[[[56120,710],[56420,710]],[[55990,620],[56090,620]],[[56200,620],[56250,620]],[[57290,340],[57420,340]],[[57450,255],[57680,225]],[[58530,390],[58700,440],[58920,490]]];
const d_wwz=[[.94,2000],[.82,1900],[.57,1750],[.33,1600],[.28,1500],[.31,1400],[.45,1300],[.5,1200],[.36,1100],[.3,1000],[.48,900],[.63,800],[.91,740],[.54,700],[.28,620],[.25,560],[.39,500],[.48,440],[.24,380],[.27,300],[.18,250],[.37,200],[.16,150],[.24,100]];
const d_sigP=[2000,1800,1500,1250,1000,800,600,400,250,100];
const d_side1=[.98,.92,.85,.75,.67,.62,.55,.48,.4,.32];
const d_side2=[.99,.97,.92,.87,.84,.8,.72,.62,.52,.39];
const d_side3=[.99,.98,.97,.94,.9,.87,.8,.69,.58,.45];
const d_peaks=[719];
const d_peakLabels=['P=719days'];
const d_gls=[[-4,.745],[-3.9,.765],[-3.8,.8],[-3.7,.85],[-3.6,.875],[-3.585,.878],[-3.54,.865],[-3.49,.795],[-3.44,.65],[-3.4,.43],[-3.36,.18],[-3.32,.06],[-3.28,.01],[-3.25,0],[-3.22,.02],[-3.18,.055],[-3.14,.04],[-3.08,.01],[-3.04,.02],[-2.98,.08],[-2.93,.05],[-2.885,.02],[-2.85,.215],[-2.82,.16],[-2.77,.03],[-2.73,0],[-2.69,.02],[-2.66,0],[-2.64,.05],[-2.61,.55],[-2.6,.54],[-2.57,.05],[-2.53,.56],[-2.515,.45],[-2.49,.005],[-2.46,.02],[-2.43,.05],[-2.4,0],[-2.38,.205],[-2.36,.02],[-2.33,.005],[-2.3,.02],[-2.27,.01],[-2.25,.05],[-2.23,.01],[-2.215,.07],[-2.2,0],[-2.18,.04],[-2.16,.12],[-2.14,0],[-2.12,.04],[-2.1,.005],[-2.08,.04],[-2.06,.05],[-2.04,.005],[-2.02,.02],[-2,.01]];
const d_s1=[.44,.435,.405,.34,.235,.25,.28,.225,
.225,.22,.24,.22,.22,.2,.24,.2,.16,.24,
.34,.21,.25,.19,.26,.24,.21,.25,.19,.24,
.17,.3,.41,.25,.15,.24,.2,.25,.17,.27,
.18,.28,.17,.26,.2,.26,.18,.24,.18,.24,.2];
const d_s2=[.585,.58,.55,.5,.38,.395,.43,.345,
.35,.33,.34,.32,.33,.32,.37,.34,.24,.4,
.46,.33,.36,.31,.33,.38,.35,.34,.33,.34,
.3,.41,.56,.35,.26,.35,.3,.33,.27,.36,
.27,.38,.25,.36,.3,.36,.28,.34,.29,.34,.3];
const d_s3=[.71,.695,.62,.55,.49,.505,.5,.475,
.44,.42,.44,.42,.44,.42,.48,.43,.36,.5,
.55,.43,.47,.41,.39,.5,.4,.45,.46,.41,
.37,.58,.69,.4,.28,.5,.4,.45,.35,.46,
.34,.47,.3,.45,.38,.46,.37,.44,.39,.44,.38];
const d_res=[.352,.35,.34,.3,.21,.23,.25,.225,
.225,.22,.23,.21,.23,.2,.29,.26,.26,.25,
.24,.24,.23,.23,.25,.22,.36,.24,.2,.23,
.26,.25,.27,.23,.27,.22,.25,.26,.24,.25,
.23,.28,.22,.26,.22,.26,.21,.3,.2,.29,.25];
const d_notes=[['P=404day',-2.902,.584],['P=338day',-2.6,.6]];
const d_phase=[[-.49,1.6],[-.46,1.4],[-.43,1.7],[-.4,1.35],[-.37,1.5],[-.34,1.9],[-.31,2.1],[-.3,3],[-.28,2.4],[-.26,1.9],[-.24,2.6],[-.22,3.95],[-.2,2.3],[-.18,2.8],[-.16,2.1],[-.14,2.5],[-.12,3.2],[-.1,2.4],[-.08,2.9],[-.06,2.5],[-.04,2.7],[-.02,2.9],[0,2.5],[.02,2.7],[.04,2.9],[.06,2.4],[.08,2.6],[.1,2.3],[.12,2.7],[.14,2.1],[.16,2.5],[.18,2],[.2,1.8],[.22,2.1],[.24,1.6],[.26,1.1,.4],[.28,1.7],[.3,1.4],[.33,1.5],[.36,1.3],[.39,1.6],[.42,1.4],[.45,1.5],[.48,1.2],
[-.48,1.5],[-.44,1.55],[-.41,1.45],[-.38,1.65],[-.35,1.6],[-.32,1.8],[-.29,2.2],[-.27,2.1],[-.25,2.3],[-.21,2.4],[-.19,2.5],[-.17,2.35],[-.15,2.6],[-.13,2.7],[-.11,2.55],[-.09,2.65],[-.07,2.7],[-.05,2.6],[-.03,2.5],[-.01,2.7],[.01,2.6],[.03,2.55],[.05,2.7],[.07,2.5],[.09,2.4],[.11,2.45],[.13,2.3],[.15,2.2],[.17,2.1],[.19,2.15],[.21,1.95],[.23,1.8],[.25,1.7],[.27,1.5],[.31,1.55],[.34,1.4],[.37,1.45],[.4,1.5],[.43,1.55],[.47,1.45]];
const d_fold=[[-.5,1.45],[0,2.65],[.5,1.45],[1,2.65],[1.5,1.45]];

/* ---------- J0725+1425 ---------- */
const e_lc=[[55990,.3],[56005,.355],[56020,.29],[56040,.28],[56060,.27],[56080,.28],[56100,.25],[56115,.27],[56130,.17,.1],[56150,.23],[56320,.235],[56340,.305,.05],[56350,.24],[56410,.19],[56430,.23],[56450,.21],[56470,.25],[56490,.2],
[56660,.25],[56680,.3],[56700,.25],[56720,.23],[56740,.29],[56760,.26],[56780,.31],[56800,.28],[56820,.3],[56840,.32],[57000,.4,.03],[57010,.32],[57030,.31],[57060,.27],[57075,.38,.07],[57090,.2],[57100,.26],[57115,.28],[57130,.31],[57140,.27],
[57340,.32],[57355,.22],[57370,.25],[57385,.19],[57400,.21],[57420,.2],[57435,.18],[57450,.17],[57660,.13,.07],[57670,.22],[57690,.27],[57700,.19],[57720,.21],[57740,.18],[57770,.2],[57790,.18],[57810,.2],
[57980,.25],[57995,.29],[58020,.28],[58040,.25],[58050,.35],[58065,.38],[58080,.3],[58100,.34],[58115,.28],[58125,.36],[58310,.19],[58330,.28],[58350,.26],[58370,.24],[58400,.25],[58430,.27],[58450,.24],[58640,.2],[58660,.22],[58680,.23],[58700,.2],[58720,.17],[58740,.16],[58760,.15,.03],[58775,.18]];
const e_model=[[56047,.25],[56106,.215],[56213,.285],[56364,.215],[56523,.285],[56670,.215],[56828,.285],[56971,.215],[57130,.285],[57277,.215],[57435,.285],[57582,.215],[57741,.285],[57884,.215],[58042,.285],[58189,.215],[58348,.285],[58495,.215],[58650,.285],[58753,.25]];
const e_heatCols=[55860,56300,56800,57300,57800,58300,58910];
const e_heatRows=[2500,2300,2100,1850,1600,1300,1100,950,870,800,760,720,680,620,560,500,450,400,370,330,280,220,170,130,100];
const e_heatLog=[[-.1,-.05,-.05,-.05,-.03,-.03,-.02],[-.08,-.05,-.05,-.05,-.03,-.03,-.02],[-.3,-.2,-.15,-.1,-.05,-.05,-.03],[-.6,-.5,-.4,-.3,-.25,-.2,-.15],[-.4,-.3,-.3,-.3,-.2,-.2,-.15],[-.15,-.1,-.05,-.1,-.08,-.05,-.05],[-.1,-.1,-.1,-.15,-.2,-.15,-.15],[-.25,-.3,-.3,-.45,-.5,-.4,-.25],[-.35,-.5,-.8,-1,-1,-.6,-.4],[-.4,-.6,-1.1,-2.3,-1.1,-.5,-.35],[-.6,-.8,-.9,-1.1,-.7,-.3,-.3],[-.9,-1.5,-.9,-.6,-.4,-.6,-1],[-.3,-.3,-.3,-.3,-.2,-.2,-.2],[-.05,-.1,-.1,-.05,-.05,-.05,-.05],[-.6,-.4,-.4,-.1,-.2,-.3,-.3],[-1.1,-1,-.8,-.6,-.5,-.5,-.5],[-1.3,-2.3,-1.2,-.8,-.7,-.7,-.8],[-.5,-.7,-.5,-.4,-.4,-.4,-.5],[-.8,-.9,-.9,-.8,-.8,-.9,-.9],[-.1,-.05,-.1,-.05,-.1,-.1,-.2],[-.4,-.9,-.9,-.5,-.2,-.6,-.9],[-1.5,-.3,-1,-.3,-.2,-1.2,-.7],[-.6,-1.2,-.4,-1.2,-.8,-.4,-1],[-1,-.5,-1,-.4,-.5,-.9,-1.4],[-.7,-.9,-.6,-.8,-.7,-.7,-.8]];
const e_contours=[[56150,2237,40,52],[56550,2394,60,92],[57085,2316,44,78],[57680,2086,32,46],[58550,2125,40,52],[56910,1420,68,33],[57725,1320,68,26],[58605,1310,100,20],[56520,1090,300,130],[56660,610,246,20],[57315,550,270,39],[58630,610,110,13]];
const e_ridges=[[[56130,260],[56260,260]],[[56340,260],[56490,260]],[[56880,260],[57100,260]],[[57130,210],[57210,210]],[[57440,290],[57500,290]],[[57740,220],[57860,220]],[[58000,220],[58150,220]],[[58160,450],[58240,450]],[[58500,280],[58650,280]],[[58660,260],[58910,260]],[[56000,110],[56900,110]],[[55880,200],[56000,200]],[[57280,110],[57600,110]],[[57900,110],[58050,110]],[[58300,110],[58600,110]]];
const e_wwz=[[.67,2500],[.78,2400],[.67,2300],[.53,2100],[.5,1900],[.5,1750],[.61,1600],[.8,1400],[.87,1300],[.89,1150],[.85,1100],[.56,1050],[.45,950],[.43,850],[.29,780],[.2,720],[.42,680],[.57,630],[.51,560],[.4,500],[.25,400],[.47,370],[.45,300],[.25,220],[.22,170],[.28,130],[.22,100]];
const e_sigP=[2500,2000,1500,1200,1000,800,600,450,300,200,100];
const e_side1=[.95,.91,.84,.75,.67,.6,.55,.48,.45,.38,.3];
const e_side2=[.98,.96,.92,.86,.78,.7,.65,.58,.52,.46,.42];
const e_side3=[1,.99,.97,.93,.88,.8,.74,.68,.6,.52,.46];
const e_peaks=[304];
const e_peakLabels=['P=304days'];
const e_gls=[[-3.5,0],[-3.45,.03],[-3.4,.08],[-3.35,.115],[-3.3,.13],[-3.27,.13],[-3.23,.1],[-3.2,.11],[-3.17,.24],[-3.13,.55],[-3.1,.645],[-3.07,.62],[-3.03,.47],[-3,.24],[-2.97,.065],[-2.95,.075],[-2.91,.165],[-2.88,.12],[-2.86,.06],[-2.83,.055],[-2.8,.025],[-2.77,.15],[-2.735,.385],[-2.71,.3],[-2.69,.13],[-2.66,.175],[-2.63,.08],[-2.62,0],[-2.59,.045],[-2.57,0],[-2.545,.02],[-2.52,0],[-2.5,.055],[-2.48,.04],[-2.455,.4],[-2.43,.08],[-2.405,.1],[-2.375,.02],[-2.35,.11],[-2.335,.1],[-2.32,.155],[-2.29,.05],[-2.26,0],[-2.24,.055],[-2.22,.04],[-2.2,.075],[-2.18,.05],[-2.16,0],[-2.14,.04],[-2.13,.19],[-2.11,.03],[-2.09,0],[-2.07,.065],[-2.055,0],[-2.04,.06],[-2.02,0],[-2,.03]];
const e_s1=[.27,.235,.23,.19,.205,
.215,.21,.19,.18,.17,.18,.18,.17,.155,.31,
.27,.19,.22,.235,.2,.18,.19,.19,.22,.21,
.18,.3,.41,.13,.2,.19,.21,.22,.18,.21,
.17,.23,.18,.21,.18,.2,.17,.25,.18,.21,.2];
const e_s2=[.43,.365,.355,.305,.315,
.32,.33,.31,.32,.265,.3,.28,.29,.25,.38,
.38,.31,.35,.37,.32,.31,.29,.265,.33,.32,
.26,.42,.61,.24,.32,.29,.33,.35,.28,.33,
.27,.38,.26,.36,.3,.34,.28,.39,.27,.35,.3];
const e_s3=[.525,.45,.45,.38,.4,
.39,.435,.4,.39,.33,.37,.35,.35,.3,.5,
.55,.4,.43,.47,.39,.38,.37,.34,.42,.39,
.33,.47,.72,.28,.39,.35,.42,.44,.33,.43,
.34,.47,.33,.41,.36,.4,.33,.48,.32,.43,.37];
const e_res=[.185,.185,.16,.18,.175,
.135,.145,.15,.16,.18,.215,.17,.18,.2,.18,
.155,.18,.155,.16,.15,.155,.16,.27,.13,.17,
.15,.18,.15,.18,.155,.18,.16,.175,.15,.17,
.16,.18,.15,.17,.15,.17,.14,.19,.15,.17,.17];
const e_notes=[['P=1229day',-3.096,.639],['P=539day',-2.848,.448],['P=284day',-2.6,.448]];
const e_phase=[[-.49,.23],[-.46,.26],[-.45,.2],[-.43,.21],[-.4,.29],[-.37,.24],[-.34,.3],[-.31,.26],[-.3,.22],[-.28,.34],[-.25,.27],[-.22,.31],[-.2,.24],[-.19,.36],[-.16,.27],[-.13,.29],[-.12,.38,.07],[-.1,.25],[-.07,.33],[-.04,.22],[-.02,.18],[-.01,.27],[.02,.25],[.05,.3],[.08,.24],[.1,.3],[.11,.2],[.14,.26],[.15,.17],[.17,.21],[.2,.18],[.23,.24],[.26,.21],[.27,.24],[.29,.14,.08],[.32,.2],[.35,.24],[.38,.19],[.4,.16],[.41,.22],[.44,.18],[.47,.25],[.5,.22],
[-.47,.22],[-.44,.25],[-.41,.26],[-.38,.27],[-.35,.25],[-.32,.29],[-.29,.28],[-.26,.3],[-.23,.26],[-.21,.29],[-.18,.28],[-.15,.25],[-.11,.3],[-.08,.27],[-.05,.25],[-.03,.24],[0,.23],[.03,.22],[.06,.21],[.09,.23],[.12,.22],[.16,.2],[.19,.22],[.22,.19],[.25,.2],[.28,.19],[.31,.22],[.34,.18],[.37,.21],[.39,.2],[.43,.21],[.46,.21],[.49,.24]];
const e_fold=[[-.5,.235],[-.17,.29],[.33,.205],[.83,.29],[1.33,.205],[1.5,.235]];

/* ---------- J0754-1147 ---------- */
const f_lc=[[55990,.16],[56010,.2],[56030,.22],[56050,.19],[56070,.24],[56080,.22],[56090,.32,.1],[56105,.26],[56125,.23],[56150,.3,.12],[56165,.22],[56180,.26],[56320,.27],[56340,.2],[56375,.25],[56395,.22],[56410,.19],[56430,.23],[56450,.17],
[56640,.27],[56660,.3],[56680,.25],[56700,.28],[56720,.26],[56740,.31],[56760,.27],[56780,.3],[56800,.25],[56820,.17],[56840,.35],[56850,.33],[57000,.25],[57020,.2],[57050,.22],[57070,.25],[57090,.2],[57110,.22],[57120,.15],
[57310,.2],[57330,.34,.18],[57350,.13],[57400,.2],[57420,.22],[57430,.25],[57435,.37,.14],[57450,.22],[57465,.2],[57640,.18],[57660,.16],[57680,.18],[57700,.17],[57720,.19],[57750,.16],[57770,.12],
[57940,.15],[57960,.39,.14],[57980,.17],[58000,.13],[58020,.17],[58050,.15],[58070,.14],[58085,.17],[58270,.1],[58300,.1],[58320,.06],[58340,.11],[58350,.37,.16],[58400,.14],[58410,.13],[58590,.16],[58610,.18],[58620,.22],[58640,.2],[58660,.18],[58680,.15],[58700,.17],[58720,.14],[58730,.16]];
const f_model=[[55957,.155],[55997,.155],[56137,.25],[56278,.155],[56418,.25],[56559,.155],[56699,.25],[56840,.155],[56981,.25],[57121,.155],[57262,.25],[57394,.155],[57531,.25],[57667,.155],[57804,.25],[57944,.155],[58085,.25],[58226,.155],[58366,.25],[58507,.155],[58647,.25],[58776,.155]];
const f_heatCols=[55820,56300,56800,57300,57800,58300,58920];
const f_heatRows=[1800,1650,1500,1400,1300,1150,1000,900,840,780,700,620,540,500,450,400,360,310,260,210,170,130,100];
const f_heatLog=[[-.15,-.05,-.25,-.5,-.7,-1,-1.1],[-.1,-.05,-.2,-.45,-.8,-1,-1.2],[-.05,-.1,-.2,-.5,-.9,-1.3,-1.6],[-.05,-.1,-.2,-.5,-1,-1.8,-2.9],[-.1,-.1,-.15,-.4,-.9,-1.1,-1.5],[-.2,-.1,-.1,-.3,-.8,-.9,-.9],[-.25,-.1,-.05,-.2,-.7,-1,-1],[-.3,-.2,-.05,-.2,-.6,-1,-1.2],[-.6,-.3,-.03,-.1,-.6,-1,-2],[-.5,-.2,-.03,-.1,-.4,-.8,-1.2],[-.2,-.2,-.1,-.1,-.3,-.7,-.9],[-.15,-.15,-.2,-.3,-.4,-.8,-.7],[-.2,-.3,-.5,-1.9,-.9,-1,-.6],[-.2,-.2,-.3,-.6,-.6,-2,-.7],[-.05,-.05,-.05,-.05,-.1,-.7,-.5],[-.6,-.3,-.1,-.2,-.05,-.1,-.2],[-1,-.7,-.5,-.9,-.2,-.6,-.5],[-.3,-2.2,-.9,-1.9,-.05,-1.6,-.5],[-.2,-.5,-.4,-.4,-.03,-.1,-.1],[-1,-.6,-1.5,-.8,-.8,-1,-1],[-.3,-.9,-.2,-.3,-.2,-.3,-.6],[-.6,-.2,-.7,-.6,-.5,-.5,-.4],[-.8,-.8,-.8,-.8,-.8,-.8,-.8]];
const f_contours=[[57020,1730,36,65],[57930,1510,32,32],[56345,1170,52,42,25],[56540,1130,80,37],[57300,1170,24,32],[57275,1000,40,18],[58435,1040,60,37],[58225,910,232,32],[58315,660,60,18],[57340,630,36,5],[56550,840,28,5],[58155,210,400,10]];
const f_ridges=[[[55950,570],[55990,570]],[[56000,420],[56120,420]],[[56330,470],[56420,470]],[[56450,440],[56520,440]],[[56560,430],[56680,430]],[[56860,410],[57000,410]],[[57130,400],[57300,400]],[[57330,400],[57500,400]],[[57720,410],[57780,410]],[[57780,290],[57920,290]],[[58000,280],[58120,280]],[[58650,260],[58760,260]],[[56050,225],[56150,225]],[[56200,170],[56330,170]],[[56640,225],[56850,225]],[[57000,240],[57060,240]],[[57250,770],[57300,770]],[[57450,110],[57770,110]]];
const f_wwz=[[.62,1800],[.39,1650],[.22,1500],[.18,1350],[.2,1250],[.35,1150],[.62,1050],[.75,950],[.56,850],[.4,750],[.32,680],[.05,600],[.04,560],[.32,500],[.66,450],[.12,400],[.34,350],[.12,320],[.45,270],[.05,220],[.25,180],[.05,140],[.22,100]];
const f_sigP=[1800,1500,1200,1000,800,600,400,250,100];
const f_side1=[.92,.82,.72,.66,.6,.54,.48,.44,.36];
const f_side2=[.98,.92,.84,.8,.72,.64,.58,.5,.42];
const f_side3=[1,.97,.93,.88,.83,.76,.66,.54,.46];
const f_peaks=[270,444];
const f_peakLabels=['P=270day','P=444day'];
const f_gls=[[-4,.585],[-3.9,.61],[-3.8,.65],[-3.7,.7],[-3.6,.745],[-3.55,.75],[-3.5,.69],[-3.45,.55],[-3.4,.33],[-3.35,.17],[-3.3,.06],[-3.25,.01],[-3.2,0],[-3.1,0],[-3.03,.03],[-2.955,.215],[-2.92,.15],[-2.88,.02],[-2.855,.15],[-2.825,.235],[-2.79,.12],[-2.75,0],[-2.7,0],[-2.66,.03],[-2.62,.475],[-2.6,.3],[-2.57,.03],[-2.535,.46],[-2.5,.1],[-2.47,.02],[-2.42,.06],[-2.4,.01],[-2.35,0],[-2.3,.01],[-2.27,.01],[-2.25,.06],[-2.22,0],[-2.18,.09],[-2.15,0],[-2.12,.05],[-2.1,0],[-2.08,.03],[-2.05,.05],[-2.02,.01],[-2,.01]];
const f_s1=[.05,.05,.05,.05,.05,.05,.05,.05,
.05,.05,.052,.05,.05,.052,.05,.05,.052,.05,
.05,.052,.05,.05,.052,.05,.05,.052,.05,.05,
.05,.052,.05,.05,.052,.05,.05,.052,.05,.05,
.05,.052,.05,.05,.052,.05,.05,.052,.05,.05,.05];
const f_s2=[.065,.065,.06,.06,.06,.06,.06,.06,
.06,.062,.058,.06,.062,.058,.06,.062,.058,.06,
.062,.058,.06,.062,.06,.065,.07,.06,.058,.065,
.062,.058,.06,.062,.058,.06,.062,.058,.06,.062,
.06,.062,.06,.065,.06,.063,.06,.065,.06,.065,.062];
const f_s3=[.25,.235,.215,.22,.23,.22,.205,.2,
.205,.21,.2,.215,.21,.205,.215,.21,.2,.22,
.21,.205,.215,.21,.22,.205,.215,.23,.21,.22,
.21,.225,.215,.22,.21,.225,.215,.22,.205,.225,
.215,.22,.21,.23,.215,.22,.21,.225,.21,.22,.215];
const f_resX=[-4,-2];
const f_res=[.003,.003];
const f_notes=[['P=411day',-2.807,.52],['P=338day',-2.48,.444]];
const f_phase=[[-.49,.2],[-.46,.3],[-.43,.22],[-.42,.34,.2],[-.4,.14],[-.37,.25],[-.34,.18],[-.31,.28],[-.3,.4,.15],[-.28,.2],[-.25,.12],[-.22,.24],[-.19,.17],[-.16,.22],[-.14,.38,.14],[-.13,.14],[-.1,.2],[-.07,.12],[-.04,.18],[-.01,.14],[0,.05,.05],[.02,.16],[.05,.1],[.08,.2],[.11,.13],[.12,.37,.16],[.14,.17],[.17,.22],[.2,.14],[.23,.2],[.26,.16],[.29,.26],[.32,.18],[.35,.22],[.38,.15],[.41,.24],[.44,.2],[.47,.27],[.5,.22],
[-.48,.24],[-.45,.2],[-.41,.18],[-.38,.22],[-.35,.24],[-.33,.16],[-.29,.18],[-.26,.22],[-.23,.17],[-.2,.2],[-.17,.15],[-.15,.18],[-.11,.16],[-.08,.17],[-.05,.15],[-.02,.16],[.01,.12],[.03,.17],[.06,.14],[.09,.16],[.13,.19],[.15,.2],[.18,.18],[.21,.22],[.24,.24],[.27,.23],[.3,.2],[.33,.24],[.36,.26],[.39,.22],[.42,.21],[.45,.25],[.48,.23]];
const f_fold=[[-.5,.24],[-.45,.25],[.03,.155],[.55,.25],[1.03,.155],[1.5,.24]];

/* ---------- panel configuration ---------- */
const panels=[
{id:'J0303-2407',lc:a_lc,model:a_model,hc:a_heatCols,hr:a_heatRows,hv:a_heatLog,contours:a_contours,ridges:a_ridges,wwz:a_wwz,sigP:a_sigP,sd1:a_side1,sd2:a_side2,sd3:a_side3,peaks:a_peaks,peakLabels:a_peakLabels,gls:a_gls,s1:a_s1,s2:a_s2,s3:a_s3,res:a_res,sigX:sigGridX,notes:a_notes,phase:a_phase,fold:a_fold,
 x0:28,x1:285,sx:387,cb:[28,387],rowY:0,mjd:[55800,58500],mjdT:[56000,56500,57000,57500,58000,58500],pLim:[100,2500],pT:[500,1000,1500,2000,2500],flux:[1.1,4.36],fluxT:[2,3,4],fluxOff:10,wwzLim:[.04,1],legX:287,legY:89,
 g:[38,375,273,523],gLim:[-4,-2],gT:glsTicksStd,ph:[28,385,573,680],phX:[-.5,1.5],phY:[1.03,4.37],phXT:phaseTicks,phYT:[1.5,2,2.5,3,3.5,4],phFmt:1,lcErr:0,phErr:0},
{id:'J0509+0541',lc:b_lc,model:b_model,hc:b_heatCols,hr:b_heatRows,hv:b_heatLog,contours:b_contours,ridges:b_ridges,wwz:b_wwz,sigP:b_sigP,sd1:b_side1,sd2:b_side2,sd3:b_side3,peaks:b_peaks,peakLabels:b_peakLabels,gls:b_gls,s1:b_s1,s2:b_s2,s3:b_s3,res:b_res,sigX:sigGridX,notes:b_notes,phase:b_phase,fold:b_fold,
 x0:431,x1:687,sx:788,cb:[431,789],rowY:0,mjd:[55430,58390],mjdT:[55500,56000,56500,57000,57500,58000],pLim:[100,2500],pT:[500,1000,1500,2000,2500],flux:[1.6,8.1],fluxT:[2,4,6,8],fluxOff:12,wwzLim:[.15,1.005],legX:689,legY:89,
 g:[440,777,273,523],gLim:[-4,-2],gT:glsTicksStd,ph:[425,787,573,680],phX:[-.5,1.5],phY:[1.5,8],phXT:phaseTicks,phYT:[2,3,4,5,6,7],phFmt:0,lcErr:.28,phErr:.2},
{id:'J0630-2406',lc:c_lc,model:c_model,hc:c_heatCols,hr:c_heatRows,hv:c_heatLog,contours:c_contours,ridges:c_ridges,wwz:c_wwz,sigP:c_sigP,sd1:c_side1,sd2:c_side2,sd3:c_side3,peaks:c_peaks,peakLabels:c_peakLabels,gls:c_gls,s1:c_s1,s2:c_s2,s3:c_s3,res:c_res,sigX:sigGridX,notes:c_notes,phase:c_phase,fold:c_fold,
 x0:832,x1:1089,sx:1190,cb:[832,1191],rowY:0,mjd:[55820,58920],mjdT:[56000,56500,57000,57500,58000,58500],pLim:[200,2500],pT:[500,1000,1500,2000,2500],flux:[.3,1.14],fluxT:[.4,.6,.8,1],fluxOff:15,wwzLim:[.02,1.03],legX:1091,legY:89,
 g:[843,1179,273,523],gLim:[-4,-2],gT:glsTicksStd,ph:[805,1195,573,680],phX:[-.56,1.58],phY:[0,1.15],phXT:phaseTicksC,phYT:[.2,.4,.6,.8,1],phFmt:1,lcErr:.06,phErr:.04},
{id:'J0650+2502',lc:d_lc,model:d_model,hc:d_heatCols,hr:d_heatRows,hv:d_heatLog,contours:d_contours,ridges:d_ridges,wwz:d_wwz,sigP:d_sigP,sd1:d_side1,sd2:d_side2,sd3:d_side3,peaks:d_peaks,peakLabels:d_peakLabels,gls:d_gls,s1:d_s1,s2:d_s2,s3:d_s3,res:d_res,sigX:sigGridX,notes:d_notes,phase:d_phase,fold:d_fold,
 x0:28,x1:285,sx:387,cb:[28,387],rowY:710,mjd:[55845,58920],mjdT:[56000,56500,57000,57500,58000,58500],pLim:[100,2000],pT:[250,500,750,1000,1250,1500,1750,2000],flux:[1.08,4.17],fluxT:[2,3,4],fluxOff:10,wwzLim:[.1,1.03],legX:287,legY:799,
 g:[38,375,985,1235],gLim:[-4,-2],gT:glsTicksStd,ph:[28,385,1284,1387],phX:[-.5,1.5],phY:[.38,4.2],phXT:phaseTicks,phYT:[.5,1,1.5,2,2.5,3,3.5,4],phFmt:1,lcErr:0,phErr:0},
{id:'J0725+1425',lc:e_lc,model:e_model,hc:e_heatCols,hr:e_heatRows,hv:e_heatLog,contours:e_contours,ridges:e_ridges,wwz:e_wwz,sigP:e_sigP,sd1:e_side1,sd2:e_side2,sd3:e_side3,peaks:e_peaks,peakLabels:e_peakLabels,gls:e_gls,s1:e_s1,s2:e_s2,s3:e_s3,res:e_res,sigX:sigGridE,notes:e_notes,phase:e_phase,fold:e_fold,
 x0:431,x1:687,sx:788,cb:[431,789],rowY:710,mjd:[55860,58910],mjdT:[56000,56500,57000,57500,58000,58500],pLim:[100,2500],pT:[500,1000,1500,2000,2500],flux:[.03,.48],fluxT:[.1,.2,.3,.4],fluxOff:16,wwzLim:[.16,1.02],legX:689,legY:841,
 g:[441,779,983,1235],gLim:[-3.5,-2],gT:glsTicksE,ph:[428,787,1284,1387],phX:[-.5,1.5],phY:[.04,.49],phXT:phaseTicks,phYT:[.1,.2,.3,.4],phFmt:1,lcErr:.02,phErr:.015},
{id:'J0754-1147',lc:f_lc,model:f_model,hc:f_heatCols,hr:f_heatRows,hv:f_heatLog,contours:f_contours,ridges:f_ridges,wwz:f_wwz,sigP:f_sigP,sd1:f_side1,sd2:f_side2,sd3:f_side3,peaks:f_peaks,peakLabels:f_peakLabels,gls:f_gls,s1:f_s1,s2:f_s2,s3:f_s3,res:f_res,resX:f_resX,sigX:sigGridX,notes:f_notes,phase:f_phase,fold:f_fold,
 x0:832,x1:1089,sx:1190,cb:[832,1191],rowY:710,mjd:[55820,58920],mjdT:[56000,56500,57000,57500,58000,58500],pLim:[100,1800],pT:[200,400,600,800,1000,1200,1400,1600,1800],flux:[0,.553],fluxT:[.1,.2,.3,.4,.5],fluxOff:15,wwzLim:[.01,1.03],legX:1117,legY:799,
 g:[842,1179,985,1235],gLim:[-4,-2],gT:glsTicksStd,ph:[830,1187,1284,1389],phX:[-.5,1.5],phY:[0,.6],phXT:phaseTicks,phYT:[0,.1,.2,.3,.4,.5],phFmt:1,lcErr:.03,phErr:.03}
];

/* ---------- helpers ---------- */
const NS='http://www.w3.org/2000/svg';
const svg=document.getElementById('overlay');
const figure=document.getElementById('figure');
const FRAME='#555';
function mk(tag,attrs,parent){
  const e=document.createElementNS(NS,tag);
  for(const k in attrs)e.setAttribute(k,attrs[k]);
  parent.appendChild(e);
  return e;
}
function scale(d0,d1,r0,r1){return v=>r0+(v-d0)/(d1-d0)*(r1-r0);}
function fmt(v,d){return (v<0?'\u2212':'')+Math.abs(v).toFixed(d);}
function linePath(pts){return pts.map((p,i)=>(i?'L':'M')+p[0].toFixed(2)+' '+p[1].toFixed(2)).join('');}
function smoothPath(pts){
  const n=pts.length,d=[],m=[];
  for(let i=0;i<n-1;i++)d.push((pts[i+1][1]-pts[i][1])/(pts[i+1][0]-pts[i][0]||1e-6));
  m[0]=d[0];m[n-1]=d[n-2];
  for(let i=1;i<n-1;i++)m[i]=d[i-1]*d[i]<=0?0:2*d[i-1]*d[i]/(d[i-1]+d[i]);
  let s='M'+pts[0][0].toFixed(2)+' '+pts[0][1].toFixed(2);
  for(let i=0;i<n-1;i++){
    const h=(pts[i+1][0]-pts[i][0])/3;
    s+='C'+(pts[i][0]+h).toFixed(2)+' '+(pts[i][1]+m[i]*h).toFixed(2)+' '+(pts[i+1][0]-h).toFixed(2)+' '+(pts[i+1][1]-m[i+1]*h).toFixed(2)+' '+pts[i+1][0].toFixed(2)+' '+pts[i+1][1].toFixed(2);
  }
  return s;
}
function jet(t){
  const c=v=>Math.max(0,Math.min(1,v));
  return [c(1.5-Math.abs(4*t-3)),c(1.5-Math.abs(4*t-2)),c(1.5-Math.abs(4*t-1))];
}
function label(parent,x,y,str,size,anchor,rot){
  const t=mk('text',{x:x,y:y,'font-size':size,'text-anchor':anchor||'start'},parent);
  if(rot)t.setAttribute('transform','rotate('+rot+' '+x+' '+y+')');
  t.textContent=str;
  return t;
}
function frame(parent,x0,y0,x1,y1,w){
  return mk('rect',{x:x0,y:y0,width:x1-x0,height:y1-y0,fill:'none',stroke:FRAME,'stroke-width':w||.9},parent);
}
function clip(id,x0,y0,x1,y1){
  const c=mk('clipPath',{id:id},svg);
  mk('rect',{x:x0,y:y0,width:x1-x0,height:y1-y0},c);
  return 'url(#'+id+')';
}
function xTicks(parent,vals,sx,y,len,size,gap,dec,prefix){
  vals.forEach(v=>{
    const l=mk('line',{x1:sx(v),x2:sx(v),y1:y,y2:y+len,stroke:'#333','stroke-width':.6},parent);
    
    
    const t=label(parent,sx(v),y+gap,fmt(v,dec),size,'middle');
    
    
  });
}
function yTicks(parent,vals,sy,x,len,size,gap,dec,prefix){
  vals.forEach(v=>{
    const l=mk('line',{x1:x,x2:x-len,y1:sy(v),y2:sy(v),stroke:'#333','stroke-width':.6},parent);
    
    
    const t=label(parent,x-gap,sy(v)+size*.36,fmt(v,dec),size,'end');
    
    
  });
}
function drawHeat(p,heatY0,heatY1){
  const cv=document.createElement('canvas');
  
  
  const w=p.x1-p.x0,h=heatY1-heatY0;
  cv.width=w;cv.height=h;
  cv.style.left=p.x0+'px';cv.style.top=heatY0+'px';
  figure.insertBefore(cv,svg);
  const ctx=cv.getContext('2d'),img=ctx.createImageData(w,h);
  const cols=p.hc,rows=p.hr,vals=p.hv;
  const ss=t=>t*t*(3-2*t);
  for(let py=0;py<h;py++){
    const P=p.pLim[1]+(py+.5)/h*(p.pLim[0]-p.pLim[1]);
    let ri=0;
    while(ri<rows.length-2&&P<rows[ri+1])ri++;
    const rt=ss(Math.max(0,Math.min(1,(rows[ri]-P)/(rows[ri]-rows[ri+1]))));
    for(let px=0;px<w;px++){
      const M=p.mjd[0]+(px+.5)/w*(p.mjd[1]-p.mjd[0]);
      let ci=0;
      while(ci<cols.length-2&&M>cols[ci+1])ci++;
      const ct=Math.max(0,Math.min(1,(M-cols[ci])/(cols[ci+1]-cols[ci])));
      const top=vals[ri][ci]*(1-ct)+vals[ri][ci+1]*ct;
      const bot=vals[ri+1][ci]*(1-ct)+vals[ri+1][ci+1]*ct;
      const c=jet((top*(1-rt)+bot*rt+3)/3);
      const o=(py*w+px)*4;
      img.data[o]=c[0]*255;img.data[o+1]=c[1]*255;img.data[o+2]=c[2]*255;img.data[o+3]=255;
    }
  }
  ctx.putImageData(img,0,0);
}

/* colourbar gradient */
const defs=mk('defs',{},svg);
const grad=mk('linearGradient',{id:'jetGradient',x1:0,x2:1,y1:0,y2:0},defs);
for(let i=0;i<=32;i++){
  const c=jet(i/32).map(v=>Math.round(v*255));
  mk('stop',{offset:(i/32),'stop-color':'rgb('+c.join(',')+')'},grad);
}

/* ---------- panel drawing ---------- */
panels.forEach((p,pi)=>{
  const R=p.rowY;
  const topY0=13+R,topY1=R?797:86,hY0=R?797:87,hY1=R?919:209;
  const panel=mk('g',{},svg);
  
  

  drawHeat(p,hY0,hY1);

  /* title */
  const title=label(panel,(p.x0+p.x1)/2,R?721:11,p.id,13.4,'middle');
  
  

  const sx=scale(p.mjd[0],p.mjd[1],p.x0,p.x1);

  /* light curve */
  const lcG=mk('g',{'clip-path':clip('lc'+pi,p.x0,topY0,p.x1,topY1)},panel);
  
  
  const fy=scale(p.flux[0],p.flux[1],topY1,topY0);
  p.lc.forEach(d=>{
    const err=d[2]!==undefined?d[2]:p.lcErr;
    if(err>0){
      const bar=mk('line',{x1:sx(d[0]),x2:sx(d[0]),y1:fy(d[1]-err),y2:fy(d[1]+err),stroke:'#000','stroke-width':1},lcG);
      
      
    }
    const pt=mk('circle',{cx:sx(d[0]),cy:fy(d[1]),r:1.5,fill:'#000'},lcG);
    
    
  });
  const model=mk('path',{d:smoothPath(p.model.map(d=>[sx(d[0]),fy(d[1])])),fill:'none',stroke:'#0a0aff','stroke-width':1.4},lcG);
  
  
  const lcFrame=frame(panel,p.x0,topY0,p.x1,topY1);
  
  
  yTicks(panel,p.fluxT,fy,p.x0,2,5,3.4,p.fluxT.some(v=>v%1)?1:0,'flux');
  const fluxTitle=label(panel,p.x0-p.fluxOff,(topY0+topY1)/2,'Flux Density [mJy]',5,'middle',-90);
  
  

  /* heat overlays */
  const py=scale(p.pLim[0],p.pLim[1],hY1,hY0);
  const hG=mk('g',{'clip-path':clip('heat'+pi,p.x0,hY0,p.x1,hY1)},panel);
  
  
  p.contours.forEach(c=>{
    const cxx=sx(c[0]),cyy=py(c[1]);
    const rx=Math.abs(sx(c[0]+c[2])-cxx),ry=Math.abs(py(c[1]+c[3])-cyy);
    const e=mk('ellipse',{cx:cxx,cy:cyy,rx:rx,ry:ry,fill:c[5]?'#ffb400':'none',stroke:'#0a0a8c','stroke-width':1},hG);
    if(c[4])e.setAttribute('transform','rotate('+c[4]+' '+cxx+' '+cyy+')');
    
    
  });
  p.ridges.forEach(r=>{
    const l=mk('path',{d:linePath(r.map(d=>[sx(d[0]),py(d[1])])),fill:'none',stroke:'#2a9ad6','stroke-width':1.9,'stroke-dasharray':'5 .7'},hG);
    
    
  });
  const hFrame=frame(panel,p.x0,hY0,p.x1,hY1);
  
  
  xTicks(panel,p.mjdT,sx,hY1,2,5,9,0,'mjd');
  yTicks(panel,p.pT,py,p.x0,2,5,3.4,0,'period');
  const mjdTitle=label(panel,(p.x0+p.x1)/2,hY1+17,'MJD[days]',5.2,'middle');
  
  
  const perTitle=label(panel,p.x0-19,(hY0+hY1)/2,'Period [days]',5.2,'middle',-90);
  
  

  /* mean WWZ side panel */
  const wx=scale(p.wwzLim[0],p.wwzLim[1],p.x1,p.sx);
  const sG=mk('g',{'clip-path':clip('side'+pi,p.x1,hY0,p.sx,hY1)},panel);
  
  
  const meanLine=mk('path',{d:linePath(p.wwz.map(d=>[wx(d[0]),py(d[1])])),fill:'none',stroke:'#1f77b4','stroke-width':2.6,'stroke-linejoin':'round'},sG);
  
  
  [[p.sd1,'#ff7f0e','sigma-1-curve'],[p.sd2,'#2ca02c','sigma-2-curve'],[p.sd3,'#d62728','sigma-3-curve']].forEach(s=>{
    const l=mk('path',{d:linePath(s[0].map((v,i)=>[wx(v),py(p.sigP[i])])),fill:'none',stroke:s[1],'stroke-width':1},sG);
    
    
  });
  p.peaks.forEach(v=>{
    const l=mk('line',{x1:p.x1,x2:p.sx,y1:py(v),y2:py(v),stroke:'#f00','stroke-width':1.1,'stroke-dasharray':'3.2 1.6'},sG);
    
    
  });
  const sFrame=frame(panel,p.x1,hY0,p.sx,hY1);
  
  
  xTicks(panel,wwzTicks,wx,hY1,2,5,9,1,'wwz');
  const wTitle=label(panel,(p.x1+p.sx)/2,hY1+17,'Mean WWZ',5.2,'middle');
  
  

  /* side legend */
  const sideItems=[['1\u03c3','#ffb066'],['2\u03c3','#66c266'],['3\u03c3','#e87878']];
  const legH=(sideItems.length+p.peakLabels.length)*8+3;
  const leg=mk('g',{},panel);
  
  
  const legW=p.peakLabels.some(s=>s.endsWith('days'))?50:47;
  mk('rect',{x:p.legX,y:p.legY,width:legW,height:legH,fill:'#fff','fill-opacity':.82,stroke:'#ccc','stroke-width':.6,rx:1},leg);
  sideItems.forEach((it,i)=>{
    const yy=p.legY+5.5+i*8;
    const dot=mk('circle',{cx:p.legX+7.5,cy:yy,r:.8,fill:it[1]},leg);
    
    
    const t=label(leg,p.legX+19,yy+1.8,it[0],5,'start');
    
    
  });
  p.peakLabels.forEach((s,i)=>{
    const yy=p.legY+5.5+(i+3)*8;
    const m=mk('line',{x1:p.legX+3,x2:p.legX+13,y1:yy,y2:yy,stroke:'#f00','stroke-width':1.2},leg);
    
    
    const t=label(leg,p.legX+15,yy+1.8,s,5,'start');
    
    
  });

  /* colourbar */
  const cbY=R?943:233,cbH=13,cbW=p.cb[1]-p.cb[0];
  const cb=mk('rect',{x:p.cb[0],y:cbY,width:cbW,height:cbH,fill:'url(#jetGradient)',stroke:FRAME,'stroke-width':.8},panel);
  
  
  const cx=scale(-3,0,p.cb[0],p.cb[1]);
  colorbarExponents.forEach(ex=>{
    const l=mk('line',{x1:cx(ex),x2:cx(ex),y1:cbY+cbH,y2:cbY+cbH+2.4,stroke:'#333','stroke-width':.6},panel);
    
    
    const t=label(panel,cx(ex),cbY+cbH+9,'10',5,'middle');
    const sup=mk('tspan',{dy:-2,'font-size':3.6},t);
    sup.textContent=(ex<0?'\u2212':'')+Math.abs(ex);
    
    
    if(ex<0)colorbarMinor.forEach(mn=>{
      const ml=mk('line',{x1:cx(ex+Math.log10(mn)),x2:cx(ex+Math.log10(mn)),y1:cbY+cbH,y2:cbY+cbH+1.3,stroke:'#444','stroke-width':.4},panel);
      
      
    });
  });

  /* GLS periodogram */
  const g=p.g,gx=scale(p.gLim[0],p.gLim[1],g[0],g[1]),gy=scale(0,1,g[3],g[2]);
  const gAxes=mk('g',{},panel);
  
  
  const gClip=mk('g',{'clip-path':clip('gls'+pi,g[0],g[2],g[1],g[3])},gAxes);
  const sigCurve=(ys,xs,col,w,dash,name)=>{
    const c=mk('path',{d:linePath(ys.map((v,i)=>[gx(xs[i]),gy(v)])),fill:'none',stroke:col,'stroke-width':w,'stroke-dasharray':dash},gClip);
    
    
  };
  sigCurve(p.s1,p.sigX,'#ffd9a0',1.2,'none','gls-sigma-1-curve');
  sigCurve(p.s2,p.sigX,'#d2a8a8',1.2,'none','gls-sigma-2-curve');
  sigCurve(p.s3,p.sigX,'#ff3636',1,'1.4 .7','gls-sigma-3-curve');
  sigCurve(p.res,p.resX||p.sigX,'#3a3aff',1,'1.4 .7','gls-residual-curve');
  const glsLine=mk('path',{d:smoothPath(p.gls.map(d=>[gx(d[0]),Math.min(gy(d[1]),g[3])])),fill:'none',stroke:'#000','stroke-width':1.5},gClip);
  
  
  const gf=frame(gAxes,g[0],g[2],g[1],g[3],1);
  
  
  p.gT.forEach(v=>{
    const t1=mk('line',{x1:gx(v),x2:gx(v),y1:g[3],y2:g[3]-3,stroke:'#222','stroke-width':.7},gAxes);
    
    
    const t2=mk('line',{x1:gx(v),x2:gx(v),y1:g[2],y2:g[2]+3,stroke:'#222','stroke-width':.7},gAxes);
    
    
    const t=label(gAxes,gx(v),g[3]+11.5,fmt(v,p.gLim[0]===-4?2:1),9,'middle');
    
    
  });
  powerTicks.forEach(v=>{
    const t1=mk('line',{x1:g[0],x2:g[0]+3,y1:gy(v),y2:gy(v),stroke:'#222','stroke-width':.7},gAxes);
    
    
    const t2=mk('line',{x1:g[1],x2:g[1]-3,y1:gy(v),y2:gy(v),stroke:'#222','stroke-width':.7},gAxes);
    
    
    const t=label(gAxes,g[0]-3.5,gy(v)+3.2,fmt(v,1),9,'end');
    
    
  });
  const gxTitle=label(gAxes,(g[0]+g[1])/2,g[3]+24.5,'Log[Frequency]',9.3,'middle');
  
  
  const gyTitle=label(gAxes,g[0]-23,(g[2]+g[3])/2,'Power',9.3,'middle',-90);
  
  
  p.notes.forEach(n=>{
    const t=label(gAxes,gx(n[1]),gy(n[2]),n[0],9.3,'start');
    
    
  });
  /* GLS legend */
  const gLeg=mk('g',{},gAxes);
  
  
  const lx=g[1]-61,ly=g[2]+4;
  mk('rect',{x:lx,y:ly,width:56,height:72,fill:'#fff','fill-opacity':.85,stroke:'#ccc','stroke-width':.8,rx:1.5},gLeg);
  [['GLS','#000',1.5,'none'],['1\u03c3','#ffd9a0',1.2,'none'],['2\u03c3','#d2a8a8',1.2,'none'],['3\u03c3','#ff3636',1,'1.4 .7'],['res','#3a3aff',1,'1.4 .7']].forEach((it,i)=>{
    const yy=ly+9+i*14;
    const l=mk('line',{x1:lx+4,x2:lx+24,y1:yy,y2:yy,stroke:it[1],'stroke-width':it[2],'stroke-dasharray':it[3]},gLeg);
    
    
    const t=label(gLeg,lx+31,yy+3.3,it[0],9.3,'start');
    
    
  });

  /* folded phase plot */
  const h=p.ph,phx=scale(p.phX[0],p.phX[1],h[0],h[1]),phy=scale(p.phY[0],p.phY[1],h[3],h[2]);
  const phAxes=mk('g',{},panel);
  
  
  const phClip=mk('g',{'clip-path':clip('ph'+pi,h[0],h[2],h[1],h[3])},phAxes);
  [0,1].forEach(shift=>{
    p.phase.forEach(d=>{
      const err=d[2]!==undefined?d[2]:p.phErr;
      if(err>0){
        const bar=mk('line',{x1:phx(d[0]+shift),x2:phx(d[0]+shift),y1:phy(d[1]-err),y2:phy(d[1]+err),stroke:'#c8c8c8','stroke-width':.7},phClip);
        
        
      }
      const pt=mk('circle',{cx:phx(d[0]+shift),cy:phy(d[1]),r:1.3,fill:'#808080'},phClip);
      
      
    });
  });
  const foldLine=mk('path',{d:smoothPath(p.fold.map(d=>[phx(d[0]),phy(d[1])])),fill:'none',stroke:'#000','stroke-width':1.6},phClip);
  
  
  const phf=frame(phAxes,h[0],h[2],h[1],h[3]);
  
  
  xTicks(phAxes,p.phXT,phx,h[3],2,5.8,9.5,2,'phase');
  yTicks(phAxes,p.phYT,phy,h[0],2,5.8,3.4,p.phFmt,'phase-flux');
  const phTitle=label(phAxes,(h[0]+h[1])/2,h[2]-3,p.id,7,'middle');
  
  
  const phXT=label(phAxes,(h[0]+h[1])/2,h[3]+18,'Phase',6.2,'middle');
  
  
  const phYT=label(phAxes,h[0]-18,(h[2]+h[3])/2,'Flux',6.2,'middle',-90);
  
  
});
</script>
</body>
</html>
